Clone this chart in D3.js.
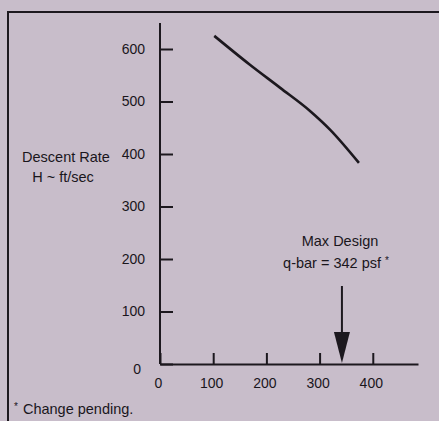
<!DOCTYPE html>
<html>
<head>
<meta charset="utf-8">
<script src="https://cdn.jsdelivr.net/npm/d3@7"></script>
<style>
  body { margin: 0; background: #c8bdca; }
  text { font-family: "Liberation Sans", Arial, sans-serif; fill: #1a161c; }
</style>
</head>
<body>
<div id="chart-div"></div>
<script>
var props = {
  width: 439,
  height: 421,
  axisX: 160,
  axisY: 364
}

// descent rate curve
var qbar = [102, 169, 226, 282, 320, 374];
var descentRate = [625, 570, 526, 482, 446, 383];
var xTicks = [0, 100, 200, 300, 400];
var yTicks = [0, 100, 200, 300, 400, 500, 600];
var maxDesign = 342;
var yTitle = ["Descent Rate", "H ~ ft/sec"];
var noteLines = ["Max Design", "q-bar = 342 psf"];
var footnote = "Change pending.";

var svg = d3.select("#chart-div").append("svg").attr("width", props.width).attr("height", props.height);

svg.append("rect").attr("width", props.width).attr("height", props.height).style("fill", "#c8bdca");

// frame (top + left edge of the page panel)
svg.append("path")
  .attr("d", "M8,421 L8,12 L439,12")
  .style("fill", "none").style("stroke", "#1c181e").style("stroke-width", 2);

var xScale = d3.scaleLinear().domain([0, 485]).range([props.axisX, 418]);
var yScale = d3.scaleLinear().domain([0, 600]).range([props.axisY, 49]);

var xAxis = d3.axisBottom(xScale).tickValues(xTicks).tickSizeInner(-11).tickSizeOuter(0).tickPadding(14);
var yAxis = d3.axisLeft(yScale).tickValues(yTicks).tickSizeInner(-13).tickSizeOuter(0).tickPadding(15);

var gx = svg.append("g").attr("transform", "translate(0," + props.axisY + ")").call(xAxis);
var gy = svg.append("g").attr("transform", "translate(" + props.axisX + ",0)").call(yAxis);

// y axis runs up past the last tick
gy.select(".domain").attr("d", "M0," + props.axisY + "V23");

[gx, gy].forEach(function(g){
  g.selectAll("path, line").style("stroke", "#1c181e").style("stroke-width", 2);
  g.selectAll("text").style("font-size", "14px").style("font-family", "\"Liberation Sans\", Arial, sans-serif").style("fill", "#1a161c");
});
gx.selectAll(".tick text").attr("dx", -2);
gy.selectAll(".tick text").filter(function(d){return d == 0}).attr("dy", "0.7em").attr("dx", -4);

// y title
svg.selectAll(".ytitle")
  .data(yTitle)
  .enter()
  .append("text")
  .attr("class", "ytitle")
  .attr("x", function(d, i){return i == 0 ? 66 : 63})
  .attr("y", function(d, i){return 162 + i * 20})
  .attr("text-anchor", "middle")
  .style("font-size", "14.5px")
  .text(function(d){return d});

// the curve
var points = qbar.map(function(d, i){return {x: d, y: descentRate[i]}});
var lineGenerator = d3.line().x(function(d){return xScale(d.x)}).y(function(d){return yScale(d.y)}).curve(d3.curveMonotoneX);
svg.append("path")
  .attr("d", lineGenerator(points))
  .style("fill", "none").style("stroke", "#1c181e").style("stroke-width", 2.6);

// max design arrow
var ax = xScale(maxDesign);
svg.append("line")
  .attr("x1", ax).attr("x2", ax).attr("y1", 286).attr("y2", 335)
  .style("stroke", "#1c181e").style("stroke-width", 2);
svg.append("path")
  .attr("d", "M" + (ax - 8) + ",332 L" + (ax + 8) + ",332 L" + ax + "," + (props.axisY - 1) + "Z")
  .style("fill", "#1c181e");

var note = svg.append("text").attr("text-anchor", "middle").style("font-size", "14.5px");
note.append("tspan").attr("x", 340).attr("y", 246).text(noteLines[0]);
note.append("tspan").attr("x", 336).attr("y", 268).text(noteLines[1]);
note.append("tspan").attr("dx", 4).attr("dy", -4).style("font-size", "10px").text("*");

// footnote
var fn = svg.append("text").attr("x", 14).attr("y", 414).style("font-size", "14.5px");
fn.append("tspan").attr("dy", -4).style("font-size", "10px").text("*");
fn.append("tspan").attr("dx", 5).attr("dy", 4).text(footnote);
</script>
</body>
</html>
